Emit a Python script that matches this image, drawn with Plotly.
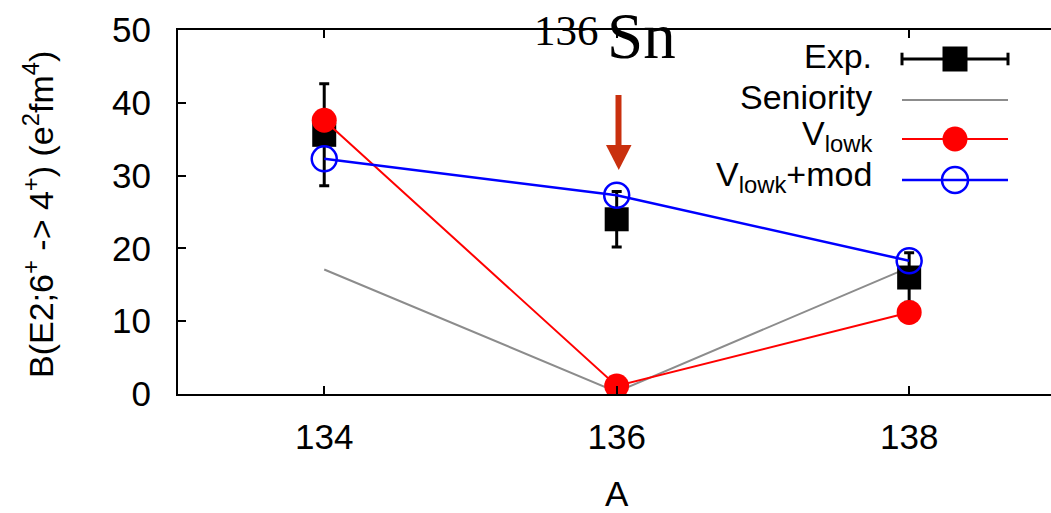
import plotly.graph_objects as go

# ---------------- data ----------------
A = [134, 136, 138]
exp_vals = [35.6, 24.0, 16.0]
exp_err = [7.0, 3.8, 3.4]
seniority = [17.1, 0.3, 17.4]
vlowk = [37.6, 1.1, 11.2]
vlowk_mod = [32.3, 27.3, 18.3]

x_ticks = [134, 136, 138]
y_ticks = [0, 10, 20, 30, 40, 50]

legend_labels = ["Exp.", "Seniority", "V<sub>lowk</sub>", "V<sub>lowk</sub>+mod"]

# ---------------- layout constants ----------------
W, H = 1051, 513
ML, MR, MT, MB = 178, 0, 30, 119
SANS = "Liberation Sans, Arial, Helvetica, sans-serif"
SERIF = "Liberation Serif, Times New Roman, serif"
FS = 35

GRAY = "#8c8c8c"
ARROW = "#c9300e"


def px(xpix):
    return (xpix - ML) / (W - ML - MR)


def py(ypix):
    return (H - MB - ypix) / (H - MT - MB)


fig = go.Figure()

# ---------------- data traces ----------------
fig.add_trace(go.Scatter(x=A, y=seniority, mode="lines",
                         line=dict(color=GRAY, width=2), showlegend=False))
fig.add_trace(go.Scatter(x=A, y=exp_vals, mode="markers",
                         marker=dict(symbol="square", size=24, color="black"),
                         error_y=dict(type="data", array=exp_err, color="black",
                                      thickness=3, width=5),
                         showlegend=False))
fig.add_trace(go.Scatter(x=A, y=vlowk, mode="lines+markers",
                         line=dict(color="red", width=2),
                         marker=dict(symbol="circle", size=25, color="red"),
                         showlegend=False))
fig.add_trace(go.Scatter(x=A, y=vlowk_mod, mode="lines+markers",
                         line=dict(color="blue", width=2.5),
                         marker=dict(symbol="circle-open", size=25, color="blue",
                                     line=dict(width=2.5, color="blue")),
                         showlegend=False))

# ---------------- manual legend (pixel overlay axes x3/y3) ----------------
row_y = [59, 100, 139, 180]
sx0, sx1, smid = 902, 1008, 955
text_right = 874

# Exp.: line with end caps and square
fig.add_trace(go.Scatter(x=[sx0, sx1], y=[row_y[0]] * 2, mode="lines",
                         line=dict(color="black", width=3),
                         xaxis="x3", yaxis="y3", showlegend=False, hoverinfo="skip"))
fig.add_trace(go.Scatter(x=[sx0, sx1], y=[row_y[0]] * 2, mode="markers",
                         marker=dict(symbol="line-ns", size=9,
                                     line=dict(color="black", width=3)),
                         xaxis="x3", yaxis="y3", showlegend=False, hoverinfo="skip"))
fig.add_trace(go.Scatter(x=[smid], y=[row_y[0]], mode="markers",
                         marker=dict(symbol="square", size=25, color="black"),
                         xaxis="x3", yaxis="y3", showlegend=False, hoverinfo="skip"))
# Seniority
fig.add_trace(go.Scatter(x=[sx0, sx1], y=[row_y[1]] * 2, mode="lines",
                         line=dict(color=GRAY, width=2),
                         xaxis="x3", yaxis="y3", showlegend=False, hoverinfo="skip"))
# Vlowk
fig.add_trace(go.Scatter(x=[sx0, sx1], y=[row_y[2]] * 2, mode="lines",
                         line=dict(color="red", width=2),
                         xaxis="x3", yaxis="y3", showlegend=False, hoverinfo="skip"))
fig.add_trace(go.Scatter(x=[smid], y=[row_y[2]], mode="markers",
                         marker=dict(symbol="circle", size=25, color="red",
                                     line=dict(width=0)),
                         xaxis="x3", yaxis="y3", showlegend=False, hoverinfo="skip"))
# Vlowk+mod
fig.add_trace(go.Scatter(x=[sx0, sx1], y=[row_y[3]] * 2, mode="lines",
                         line=dict(color="blue", width=2.5),
                         xaxis="x3", yaxis="y3", showlegend=False, hoverinfo="skip"))
fig.add_trace(go.Scatter(x=[smid], y=[row_y[3]], mode="markers",
                         marker=dict(symbol="circle-open", size=26, color="blue",
                                     line=dict(width=2.5, color="blue")),
                         xaxis="x3", yaxis="y3", showlegend=False, hoverinfo="skip"))

annotations = []
text_y = [56, 97, 135, 176]
for lab, yy in zip(legend_labels, text_y):
    annotations.append(dict(x=px(text_right), y=py(yy), xref="paper", yref="paper",
                            text=lab, showarrow=False, xanchor="right", yanchor="middle",
                            font=dict(family=SANS, size=FS - 1, color="black")))

# title 136Sn (mass number drawn as a raised, smaller label)
annotations.append(dict(x=px(601), y=py(30), xref="paper", yref="paper",
                        text="136", showarrow=False,
                        xanchor="right", yanchor="middle",
                        font=dict(family=SERIF, size=43, color="black")))
annotations.append(dict(x=px(605), y=py(36), xref="paper", yref="paper",
                        text="Sn", showarrow=False,
                        xanchor="left", yanchor="middle",
                        font=dict(family=SERIF, size=65, color="black")))
# axis titles
annotations.append(dict(x=px(617), y=py(494), xref="paper", yref="paper", text="A",
                        showarrow=False, xanchor="center", yanchor="middle",
                        font=dict(family=SANS, size=FS, color="black")))
annotations.append(dict(x=px(38), y=py(215), xref="paper", yref="paper",
                        text="B(E2;6<sup>+</sup> -&gt; 4<sup>+</sup>) (e<sup>2</sup>fm<sup>4</sup>)",
                        textangle=-90, showarrow=False,
                        xanchor="center", yanchor="middle",
                        font=dict(family=SANS, size=34, color="black")))

shapes = [
    dict(type="line", xref="x3", yref="y3", x0=618.5, x1=618.5, y0=95, y1=147,
         line=dict(color=ARROW, width=6)),
    dict(type="path", xref="x3", yref="y3",
         path="M 606 145 L 631.5 145 L 618.75 170 Z",
         fillcolor=ARROW, line=dict(color=ARROW, width=0)),
]

fig.update_layout(
    width=W, height=H,
    margin=dict(l=ML, r=MR, t=MT, b=MB, pad=0),
    paper_bgcolor="white", plot_bgcolor="white",
    showlegend=False,
    font=dict(family=SANS, size=FS, color="black"),
    xaxis=dict(range=[133, 138.97], tickvals=x_ticks, ticks="inside", ticklen=8,
               tickwidth=1.5, tickcolor="black", showline=True, linecolor="black",
               linewidth=2, mirror="ticks", showgrid=False, zeroline=False,
               ticklabelstandoff=11, tickfont=dict(size=FS)),
    yaxis=dict(range=[0, 50], tickvals=y_ticks, ticks="inside", ticklen=8,
               tickwidth=1.5, tickcolor="black", showline=True, linecolor="black",
               linewidth=2, mirror=False, showgrid=False, zeroline=False,
               ticklabelstandoff=18, tickfont=dict(size=FS)),
    yaxis2=dict(range=[0, 50], overlaying="y", side="right", tickvals=y_ticks,
                ticks="inside", ticklen=4, tickwidth=1.5, tickcolor="black",
                showticklabels=False, showline=False, showgrid=False, zeroline=False),
    xaxis3=dict(range=[ML, W - MR], overlaying="x", anchor="y3", visible=False,
                showgrid=False, zeroline=False),
    yaxis3=dict(range=[H - MB, MT], overlaying="y", anchor="x3", visible=False,
                showgrid=False, zeroline=False),
    annotations=annotations,
    shapes=shapes,
)

fig.write_html("out.html")
